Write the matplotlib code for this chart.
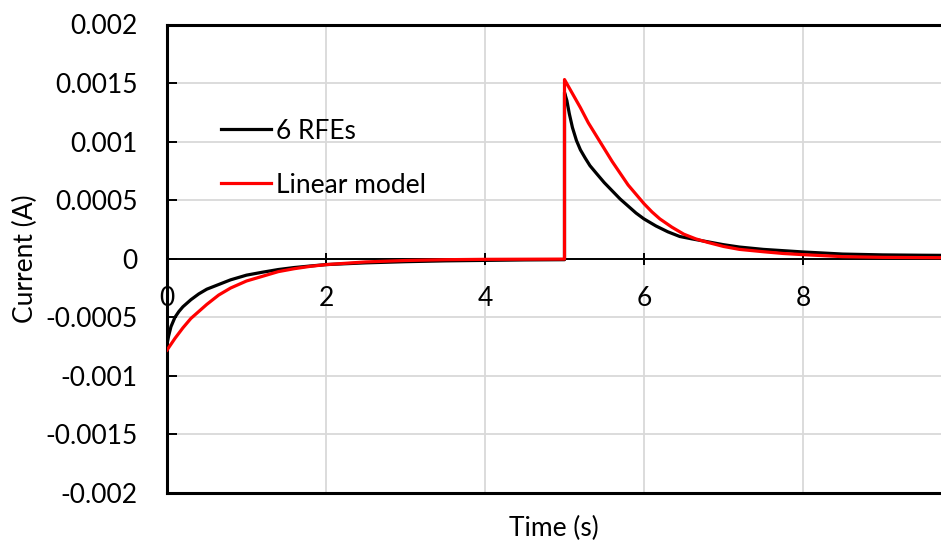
import numpy as np
import matplotlib.pyplot as plt

plt.rcParams['font.family'] = ['Lato', 'DejaVu Sans']

t_rfe = [0, 0.02, 0.05, 0.1, 0.15, 0.2, 0.3, 0.4, 0.5, 0.65, 0.8, 1.0, 1.2, 1.4, 1.6, 1.8, 2.0,
         2.5, 3.0, 3.5, 4.0, 4.5, 5.0,
         5.0, 5.03, 5.06, 5.1, 5.15, 5.2, 5.26, 5.32, 5.4, 5.5, 5.6, 5.7, 5.8, 5.9, 6.0, 6.15,
         6.3, 6.45, 6.6, 6.8, 7.0, 7.2, 7.5, 8.0, 8.5, 9.0, 9.5, 10.0]
i_rfe = [-0.00073, -0.00066, -0.00058, -0.0005, -0.00045, -0.00041, -0.00035, -0.0003, -0.00026,
         -0.00022, -0.00018, -0.00014, -0.000115, -0.000092, -0.000075, -0.000062, -0.00005,
         -0.000035, -0.000025, -0.000018, -0.000014, -0.00001, -0.000008,
         0.00142, 0.00135, 0.00124, 0.00112, 0.00101, 0.00093, 0.00086, 0.000795, 0.00073, 0.00065,
         0.00058, 0.00051, 0.00045, 0.00039, 0.00034, 0.00028, 0.00023, 0.00019, 0.00017, 0.000145,
         0.00012, 0.0001, 0.00008, 0.000058, 0.00004, 0.000033, 0.00003, 0.000028]

t_lin = [0, 0.1, 0.2, 0.3, 0.4, 0.5, 0.65, 0.8, 1.0, 1.2, 1.4, 1.6, 1.8, 2.0, 2.5, 3.0, 3.5, 4.0,
         4.5, 5.0,
         5.0, 5.1, 5.2, 5.3, 5.4, 5.5, 5.6, 5.7, 5.8, 5.9, 6.0, 6.1, 6.2, 6.35, 6.5, 6.65, 6.8,
         7.0, 7.2, 7.5, 7.75, 8.0, 8.5, 9.0, 9.5, 10.0]
i_lin = [-0.00078, -0.00068, -0.00059, -0.00051, -0.00045, -0.00039, -0.00031, -0.00025, -0.00019,
         -0.00015, -0.00011, -0.000085, -0.000065, -0.00005, -0.000027, -0.000015, -0.000008,
         -0.000005, -0.000004, -0.000003,
         0.00153, 0.00141, 0.00129, 0.00116, 0.00105, 0.00094, 0.00083, 0.00073, 0.00063, 0.00055,
         0.00047, 0.0004, 0.00034, 0.00027, 0.00021, 0.00017, 0.00014, 0.000105, 0.00008, 0.00006,
         0.000045, 0.000035, 0.000018, 0.000012, 0.00001, 0.000008]

xticks = [0, 2, 4, 6, 8]
yticks = [-0.002, -0.0015, -0.001, -0.0005, 0, 0.0005, 0.001, 0.0015, 0.002]
ylabels = ['-0.002', '-0.0015', '-0.001', '-0.0005', '0', '0.0005', '0.001', '0.0015', '0.002']

fig = plt.figure(figsize=(9.41, 5.46), dpi=100)
ax = fig.add_axes([167 / 941, 53 / 546, 795 / 941, 468.5 / 546])

ax.plot(t_rfe, i_rfe, color='black', lw=2.3, label='6 RFEs', zorder=3)
ax.plot(t_lin, i_lin, color='#ff0000', lw=2.3, label='Linear model', zorder=4)

ax.set_xlim(0, 10)
ax.set_ylim(-0.002, 0.002)
ax.set_xticks(xticks)
ax.set_yticks(yticks)
ax.set_yticklabels(ylabels)
ax.grid(True, color='#d9d9d9', lw=1.3)
ax.set_axisbelow(True)

# x axis sits on zero, frame kept at bottom
ax.spines['bottom'].set_position(('data', 0))
ax.spines['bottom'].set_linewidth(1.4)
ax.axhline(-0.002, color='black', lw=2.2, clip_on=False, zorder=5)
for s in ['top', 'left', 'right']:
    ax.spines[s].set_linewidth(2.2)

ax.tick_params(axis='x', direction='inout', length=9, width=1.4, labelsize=19, pad=15, colors='black')
ax.tick_params(axis='y', direction='in', length=7, width=1.4, labelsize=19, pad=21)

ax.set_xlabel('Time (s)', fontsize=19)
ax.set_ylabel('Current (A)', fontsize=19)
ax.xaxis.set_label_coords(0.487, -0.048)
ax.yaxis.set_label_coords(-0.162, 0.5)

ax.legend(loc='upper left', bbox_to_anchor=(0.038, 0.85), frameon=False, fontsize=19,
          handlelength=1.9, handletextpad=0.2, labelspacing=1.1)

fig.savefig('out.png', dpi=100)
